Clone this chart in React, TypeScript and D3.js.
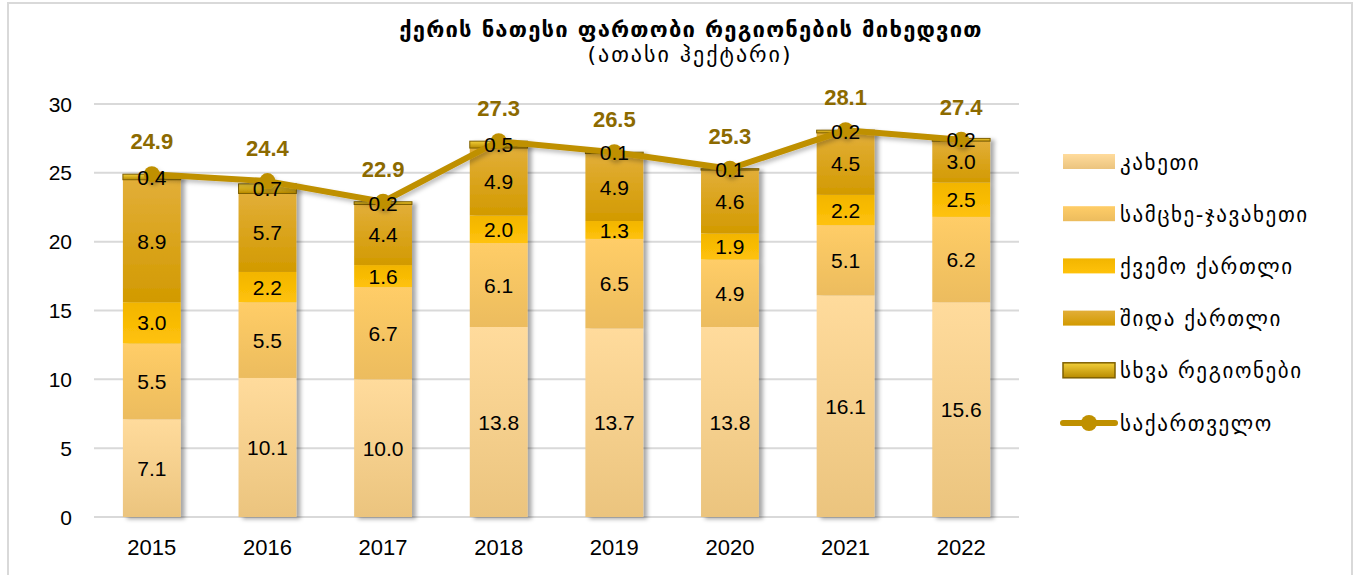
import React from "react";
import * as d3 from "d3";

const years = ["2015", "2016", "2017", "2018", "2019", "2020", "2021", "2022"];
const kakheti = [7.1, 10.1, 10.0, 13.8, 13.7, 13.8, 16.1, 15.6];
const samtskhe = [5.5, 5.5, 6.7, 6.1, 6.5, 4.9, 5.1, 6.2];
const kvemo = [3.0, 2.2, 1.6, 2.0, 1.3, 1.9, 2.2, 2.5];
const shida = [8.9, 5.7, 4.4, 4.9, 4.9, 4.6, 4.5, 3.0];
const other = [0.4, 0.7, 0.2, 0.5, 0.1, 0.1, 0.2, 0.2];
const georgia = [24.9, 24.4, 22.9, 27.3, 26.5, 25.3, 28.1, 27.4];
const yTicks = [0, 5, 10, 15, 20, 25, 30];

const seriesNames = ["კახეთი", "სამცხე-ჯავახეთი", "ქვემო ქართლი", "შიდა ქართლი", "სხვა რეგიონები"];
const lineName = "საქართველო";
const title = "ქერის ნათესი ფართობი რეგიონების მიხედვით";
const subtitle = "(ათასი ჰექტარი)";

const seriesData = [kakheti, samtskhe, kvemo, shida, other];
const gradients = [
  ["#FFDB9C", "#EBC47E"],
  ["#FFCD67", "#ECBC5E"],
  ["#F2B500", "#FFC20A"],
  ["#E2AE38", "#D29A00"],
  ["#F2CF3A", "#B88A00"],
];

const W = 1357;
const H = 575;
const NUM = "'Liberation Sans', Arial, sans-serif";
const GEO = "'DejaVu Sans', sans-serif";

export default function App() {
  const x = d3.scaleBand<string>().domain(years).range([94, 1019]).paddingInner(0.5).paddingOuter(0.25);
  const y = d3.scaleLinear().domain([0, 30]).range([517, 104]);

  const table = years.map((yr, i) => {
    const row: any = { year: yr };
    seriesData.forEach((s, k) => (row["s" + k] = s[i]));
    return row;
  });
  const keys = seriesData.map((_, k) => "s" + k);
  const stacked = d3.stack().keys(keys)(table);

  const line = d3
    .line<number>()
    .x((_, i) => (x(years[i]) as number) + x.bandwidth() / 2)
    .y((d) => y(d));

  const legendY0 = 162;
  const legendStep = 52.2;

  return (
    <svg width={W} height={H} style={{ position: "absolute", left: 0, top: 0, background: "#fff" }}>
      <defs>
        {gradients.map((g, k) => (
          <linearGradient id={"g" + k} key={k} x1="0" y1="0" x2="0" y2="1">
            <stop offset="0" stopColor={g[0]} />
            <stop offset="1" stopColor={g[1]} />
          </linearGradient>
        ))}
        <filter id="shadow" x="-20%" y="-5%" width="150%" height="115%">
          <feDropShadow dx="4" dy="2" stdDeviation="2" floodColor="#000" floodOpacity="0.35" />
        </filter>
        <filter id="lshadow" x="-5%" y="-20%" width="110%" height="150%">
          <feDropShadow dx="2" dy="3" stdDeviation="2" floodColor="#000" floodOpacity="0.25" />
        </filter>
      </defs>
      <rect x={8} y={3} width={1344} height={590} fill="#fff" stroke="#d9d9d9" strokeWidth={2} />

      {/* title */}
      <text x={691} y={37} textAnchor="middle" fontFamily={GEO} fontSize={22} fontWeight="bold" letterSpacing={1.2} fill="#000">
        {title}
      </text>
      <text x={690} y={62} textAnchor="middle" fontFamily={GEO} fontSize={22} letterSpacing={2} fill="#000">
        {subtitle}
      </text>

      {/* grid */}
      {yTicks.map((t) => (
        <g key={t}>
          <line x1={94} x2={1019} y1={y(t)} y2={y(t)} stroke="#d9d9d9" strokeWidth={2} />
          <text x={72} y={y(t)} dy="0.36em" textAnchor="end" fontFamily={NUM} fontSize={21} fill="#000">
            {t}
          </text>
        </g>
      ))}

      {/* bars */}
      {years.map((yr, i) => (
        <g key={yr} filter="url(#shadow)">
          {stacked.map((s, k) => {
            const d = s[i];
            const top = y(d[1]);
            const bot = y(d[0]);
            return (
              <rect
                key={k}
                x={x(yr)}
                y={top}
                width={x.bandwidth()}
                height={Math.max(0, bot - top)}
                fill={`url(#g${k})`}
                stroke={k === 4 ? "#7F6000" : "none"}
                strokeWidth={k === 4 ? 1 : 0}
              />
            );
          })}
        </g>
      ))}

      {/* line */}
      <g filter="url(#lshadow)">
        <path d={line(georgia) || ""} fill="none" stroke="#BF9000" strokeWidth={6} strokeLinejoin="round" />
        {georgia.map((v, i) => (
          <circle key={i} cx={(x(years[i]) as number) + x.bandwidth() / 2} cy={y(v)} r={8} fill="#BF9000" />
        ))}
      </g>

      {/* segment labels */}
      {years.map((yr, i) =>
        stacked.map((s, k) => {
          const d = s[i];
          const cy = (y(d[0]) + y(d[1])) / 2;
          return (
            <text
              key={yr + k}
              x={(x(yr) as number) + x.bandwidth() / 2}
              y={cy}
              dy="0.36em"
              textAnchor="middle"
              fontFamily={NUM}
              fontSize={21}
              fill="#000"
            >
              {seriesData[k][i].toFixed(1)}
            </text>
          );
        })
      )}

      {/* total labels */}
      {georgia.map((v, i) => (
        <text
          key={i}
          x={(x(years[i]) as number) + x.bandwidth() / 2}
          y={y(v) - 25}
          textAnchor="middle"
          fontFamily={NUM}
          fontSize={22}
          fontWeight="bold"
          fill="#8C6A00"
        >
          {v.toFixed(1)}
        </text>
      ))}

      {/* x labels */}
      {years.map((yr) => (
        <text
          key={yr}
          x={(x(yr) as number) + x.bandwidth() / 2}
          y={555}
          textAnchor="middle"
          fontFamily={NUM}
          fontSize={22}
          fill="#000"
        >
          {yr}
        </text>
      ))}

      {/* legend */}
      {seriesNames.map((n, k) => (
        <g key={n} transform={`translate(0, ${legendY0 + k * legendStep})`}>
          <rect
            x={1063}
            y={-8}
            width={52}
            height={15}
            fill={`url(#g${k})`}
            stroke={k === 4 ? "#7F6000" : "none"}
            strokeWidth={k === 4 ? 1.5 : 0}
          />
          <text x={1120} y={0} dy="0.36em" fontFamily={GEO} fontSize={21} letterSpacing={1.6} fill="#000">
            {n}
          </text>
        </g>
      ))}
      <g transform={`translate(0, ${legendY0 + 5 * legendStep})`}>
        <line x1={1063} x2={1115} y1={0} y2={0} stroke="#BF9000" strokeWidth={6} strokeLinecap="round" />
        <circle cx={1089} cy={0} r={8} fill="#BF9000" />
        <text x={1120} y={0} dy="0.36em" fontFamily={GEO} fontSize={21} letterSpacing={1.6} fill="#000">
          {lineName}
        </text>
      </g>
    </svg>
  );
}
